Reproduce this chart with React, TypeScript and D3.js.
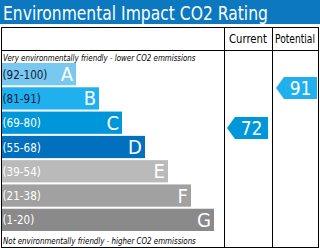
import React, { useLayoutEffect, useRef, useState } from "react";
import * as d3 from "d3";

const ratings = ["A", "B", "C", "D", "E", "F", "G"];
const ranges = ["(92-100)", "(81-91)", "(69-80)", "(55-68)", "(39-54)", "(21-38)", "(1-20)"];
const currentValue = 72;
const potentialValue = 91;
const currentBand = "C";
const potentialBand = "B";

const bandColors = ["#78c8f0", "#20b0ee", "#0097da", "#0070bf", "#bababa", "#a1a1a1", "#8a8a8a"];
const labelColors = ["#0d1b3a", "#0d1b3a", "#ffffff", "#ffffff", "#ffffff", "#ffffff", "#ffffff"];

const W = 320;
const H = 250;
const FONT = "Tahoma, Verdana, 'DejaVu Sans', sans-serif";

type FitProps = {
  x: number;
  y: number;
  width: number;
  fontSize: number;
  fill: string;
  italic?: boolean;
  children: string;
};

function FitText({ x, y, width, fontSize, fill, italic, children }: FitProps) {
  const ref = useRef<SVGTextElement>(null);
  const [k, setK] = useState(1);
  useLayoutEffect(() => {
    if (ref.current) {
      const len = ref.current.getComputedTextLength();
      if (len > 0) setK(width / len);
    }
  }, [width, children, fontSize]);
  return (
    <text
      ref={ref}
      transform={`translate(${x},${y}) scale(${k},1)`}
      fontSize={fontSize}
      fontStyle={italic ? "italic" : "normal"}
      fontFamily={FONT}
      fill={fill}
    >
      {children}
    </text>
  );
}

export default function App() {
  const y = d3.scaleBand<string>().domain(ratings).range([63, 231]).paddingInner(2 / 24).paddingOuter(0);
  const wScale = d3.scaleLinear().domain([0, ratings.length - 1]).range([76, 214]);
  const valY = d3.scaleLinear().domain([currentValue, potentialValue]).range([128, 88]);

  const arrow = (value: number, band: string, x0: number, x1: number) => {
    const cy = valY(value);
    const h = 22;
    const notch = 8;
    const color = bandColors[ratings.indexOf(band)];
    const path = d3.path();
    path.moveTo(x0, cy);
    path.lineTo(x0 + notch, cy - h / 2);
    path.lineTo(x1, cy - h / 2);
    path.lineTo(x1, cy + h / 2);
    path.lineTo(x0 + notch, cy + h / 2);
    path.closePath();
    return (
      <g>
        <path d={path.toString()} fill={color} />
        <text
          transform={`translate(${(x0 + notch + x1) / 2},${cy + 7}) scale(0.9,1)`}
          textAnchor="middle"
          fill="#fff"
          fontSize={19}
          fontFamily={FONT}
        >
          {value}
        </text>
      </g>
    );
  };

  return (
    <svg width={W} height={H} style={{ position: "absolute", left: 0, top: 0, background: "#fff" }}>
      <rect x={0} y={0} width={W} height={24} fill="#0b78c0" />
      <FitText x={3} y={20} width={265} fontSize={19} fill="#fff">
        Environmental Impact CO2 Rating
      </FitText>

      {/* table frame */}
      <rect x={1.5} y={27.5} width={317} height={220} fill="none" stroke="#000" strokeWidth={1} />
      <line x1={1.5} x2={318.5} y1={50.5} y2={50.5} stroke="#000" />
      <line x1={224.5} x2={224.5} y1={27.5} y2={247.5} stroke="#000" />
      <line x1={272.5} x2={272.5} y1={27.5} y2={247.5} stroke="#000" />
      <FitText x={229} y={43} width={38} fontSize={11.5} fill="#000">Current</FitText>
      <FitText x={275} y={43} width={40} fontSize={11.5} fill="#000">Potential</FitText>

      <FitText x={3} y={61} width={193} fontSize={9} italic fill="#000">
        Very environmentally friendly - lower CO2 emmissions
      </FitText>
      <FitText x={3} y={244} width={193} fontSize={9} italic fill="#000">
        Not environmentally friendly - higher CO2 emmissions
      </FitText>

      {ratings.map((r, i) => {
        const by = y(r) as number;
        const bh = y.bandwidth();
        const bx = 2;
        const bw = wScale(i) - bx;
        return (
          <g key={r}>
            <rect x={bx} y={by} width={bw} height={bh} fill={bandColors[i]} />
            <text
              transform={`translate(${bx + 0.5},${by + bh / 2 + 4.5}) scale(0.8,1)`}
              fontSize={13}
              fontFamily={FONT}
              fill={labelColors[i]}
            >
              {ranges[i]}
            </text>
            <text
              transform={`translate(${bx + bw - 3},${by + bh / 2 + 7}) scale(0.95,1)`}
              textAnchor="end"
              fontSize={19}
              fontFamily={FONT}
              fill="#fff"
            >
              {r}
            </text>
          </g>
        );
      })}

      {arrow(currentValue, currentBand, 227, 268)}
      {arrow(potentialValue, potentialBand, 276, 317)}
    </svg>
  );
}
